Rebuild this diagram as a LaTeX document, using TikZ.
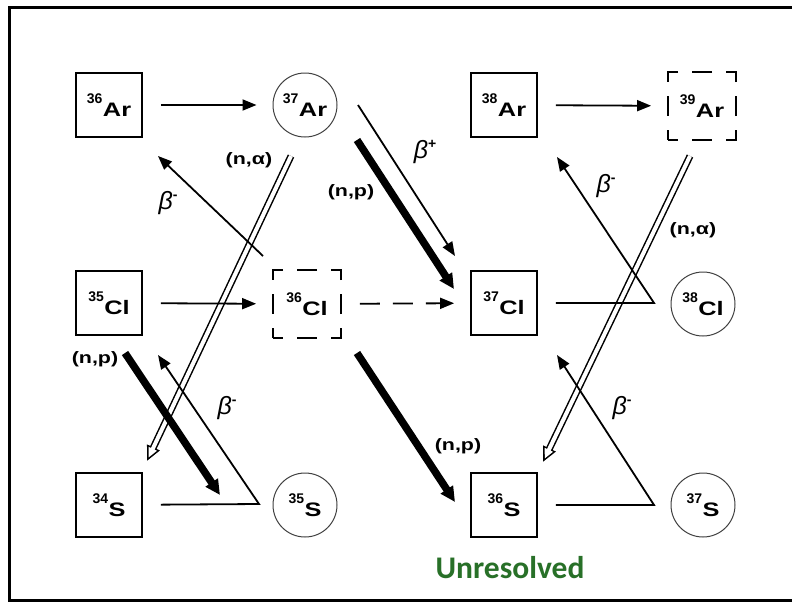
\documentclass[tikz,border=0pt]{standalone}
\usepackage{fontspec}
\usetikzlibrary{arrows.meta}
\setmainfont{Liberation Sans}
\newfontfamily\symfont[FakeStretch=1.3]{Liberation Sans}
\newfontfamily\notefont{Carlito}
\definecolor{notegreen}{RGB}{40,112,40}

% isotope label: mass number raised, element symbol
\newcommand\iso[2]{\bfseries\raisebox{13.5pt}{\fontsize{14}{14}\selectfont #1}\kern0.5pt{\symfont\bfseries\fontsize{19.5}{19.5}\selectfont #2}}
% reaction label (n,x)
\newcommand\reac[1]{{\symfont\bfseries\fontsize{16.5}{16.5}\selectfont (n,#1)}}
% beta decay label
\newcommand\bdecay[1]{{\itshape\fontsize{25}{25}\selectfont β\raisebox{10pt}{\upshape\bfseries\fontsize{14}{14}\selectfont #1}}}

\begin{document}
\begin{tikzpicture}[x=1pt,y=-1pt,
  nuc/.style={draw, line width=1.8pt, minimum width=66pt, minimum height=64pt, inner sep=0pt},
  unstable/.style={draw, line width=1.8pt, minimum width=68pt, minimum height=68pt, inner sep=0pt,
    dash pattern=on 20pt off 14pt, dash phase=10pt},
  ring/.style={circle, draw=black!75, line width=1pt, minimum size=64pt, inner sep=0pt},
  capture/.style={line width=1.8pt, shorten <=18pt, shorten >=16pt, -{Triangle[length=14pt,width=11pt]}},
  decay/.style={line width=1.8pt, line join=miter, -{Triangle[length=14pt,width=11pt]}},
  heavy/.style={line width=7.5pt, -{Triangle[length=15pt,width=14pt]}},
  hollow/.style={line width=7pt, -{Triangle[length=15pt,width=13pt]},
    postaction={draw=white, line width=4pt, shorten >=3.8pt, -{Triangle[length=9.7pt,width=8.4pt]}}},
  lbl/.style={inner sep=0pt}]

\useasboundingbox (0,0) rectangle (792,605);
\draw[line width=3pt] (792,7) -- (9,7) -- (9,600) -- (792,600);

% nuclides
\node[nuc]      (Ar36) at (109,105) {\iso{36}{Ar}};
\node[ring]     (Ar37) at (305,105) {\iso{37}{Ar}};
\node[nuc]      (Ar38) at (504,105) {\iso{38}{Ar}};
\node[unstable] (Ar39) at (702,106) {\iso{39}{Ar}};
\node[nuc]      (Cl35) at (109,303) {\iso{35}{Cl}};
\node[unstable] (Cl36) at (307,304) {\iso{36}{Cl}};
\node[nuc]      (Cl37) at (504,303) {\iso{37}{Cl}};
\node[ring]     (Cl38) at (703,304) {\iso{38}{Cl}};
\node[nuc]      (S34)  at (109,505) {\iso{34}{S}};
\node[ring]     (S35)  at (305,505) {\iso{35}{S}};
\node[nuc]      (S36)  at (504,505) {\iso{36}{S}};
\node[ring]     (S37)  at (703,505) {\iso{37}{S}};

% end points of the slanted paths
\coordinate (aL1) at (291,156);  \coordinate (aL2) at (147,461);
\coordinate (aR1) at (690,156);  \coordinate (aR2) at (543,462);
\coordinate (bp1) at (358,105);  \coordinate (bp2) at (455,256);
\coordinate (pU1) at (357,140);  \coordinate (pU2) at (454,289);
\coordinate (pM1) at (357,353);  \coordinate (pM2) at (455,502);
\coordinate (pL1) at (125,353);  \coordinate (pL2) at (220,495);
\coordinate (bUL1) at (263,256); \coordinate (bUL2) at (158,156);
\coordinate (vLL) at (259,504);  \coordinate (bLL) at (158,355);
\coordinate (vUR) at (654,303);  \coordinate (bUR) at (557,157);
\coordinate (vLR) at (654,505);  \coordinate (bLR) at (557,355);

% (n,alpha) paths
\draw[hollow] (aL1) -- (aL2);
\draw[hollow] (aR1) -- (aR2);

% neutron capture
\draw[capture] (Ar36) -- (Ar37);
\draw[capture] (Ar38) -- (Ar39);
\draw[capture] (Cl35) -- (Cl36);
\draw[capture, dash pattern=on 20pt off 13pt] (Cl36) -- (Cl37);

% beta decays
\draw[decay] (bp1) -- (bp2);
\draw[decay] (bUL1) -- (bUL2);
\draw[decay, shorten <=18pt] (S34) -- (vLL) -- (bLL);
\draw[decay, shorten <=18pt] (Cl37) -- (vUR) -- (bUR);
\draw[decay, shorten <=18pt] (S36) -- (vLR) -- (bLR);

% (n,p) paths
\draw[heavy] (pU1) -- (pU2);
\draw[heavy] (pM1) -- (pM2);
\draw[heavy] (pL1) -- (pL2);

% labels
\node[lbl] (lbp)  at (425,152) {\bdecay{+}};
\node[lbl] (lbUL) at (168,203) {\bdecay{-}};
\node[lbl] (lbUR) at (606,186) {\bdecay{-}};
\node[lbl] (lbLL) at (227,408) {\bdecay{-}};
\node[lbl] (lbLR) at (622,408) {\bdecay{-}};
\node[lbl] (laL)  at (249,160) {\reac{α}};
\node[lbl] (laR)  at (693,230) {\reac{α}};
\node[lbl] (lpU)  at (351,192) {\reac{p}};
\node[lbl] (lpL)  at (95,359)  {\reac{p}};
\node[lbl] (lpM)  at (458,446) {\reac{p}};

\node[lbl, text=notegreen] (note) at (510,568) {\notefont\bfseries\fontsize{31.5}{31.5}\selectfont Unresolved};
\end{tikzpicture}
\end{document}
